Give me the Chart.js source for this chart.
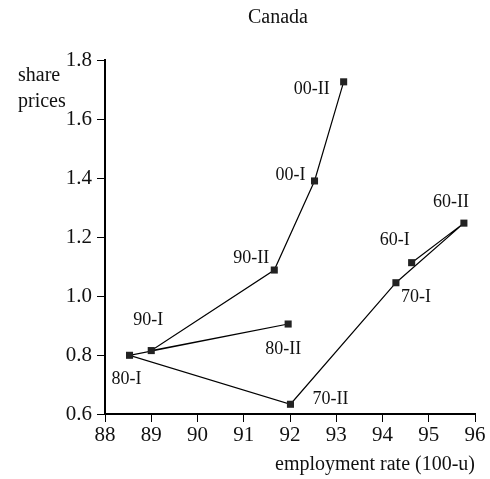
<!DOCTYPE html>
<html>
<head>
<meta charset="utf-8">
<script src="https://cdn.jsdelivr.net/npm/chart.js@4.4.0/dist/chart.umd.min.js"></script>
<style>
  html, body { margin: 0; padding: 0; background: #fff; }
  #wrap { width: 490px; height: 479px; position: relative; }
</style>
</head>
<body>
<div id="wrap"><canvas id="canada"></canvas></div>
<script>
// periods, in the order the path is drawn
const periods = ["60-I", "60-II", "70-I", "70-II", "80-I", "80-II", "90-I", "90-II", "00-I", "00-II"];
// employment rate (100-u)
const employment = [94.63, 95.76, 94.29, 92.01, 88.53, 91.96, 89.0, 91.66, 92.53, 93.16];
// share prices
const sharePrices = [1.113, 1.247, 1.045, 0.633, 0.799, 0.905, 0.815, 1.088, 1.39, 1.726];

const xTicks = [88, 89, 90, 91, 92, 93, 94, 95, 96];
const yTicks = [0.6, 0.8, 1.0, 1.2, 1.4, 1.6, 1.8];

// where each period label sits relative to its point (px)
const labelOffsets = [[-17, -22], [-13, -21], [20, 15], [40, -5], [-3, 24],
                      [-5, 25], [-3, -30], [-23, -12], [-24, -6], [-32, 7]];

const serif = "'Liberation Serif', 'DejaVu Serif', serif";

const textPlugin = {
  id: 'texts',
  afterDatasetsDraw(chart) {
    const ctx = chart.ctx;
    const meta = chart.getDatasetMeta(0);
    ctx.save();
    ctx.fillStyle = '#111';
    ctx.textAlign = 'center';
    ctx.textBaseline = 'middle';
    ctx.font = '18px ' + serif;
    meta.data.forEach((pt, i) => {
      ctx.fillText(periods[i], pt.x + labelOffsets[i][0], pt.y + labelOffsets[i][1]);
    });
    // title
    ctx.font = '20px ' + serif;
    ctx.fillText('Canada', 278, 18);
    // y axis caption
    ctx.textAlign = 'left';
    ctx.fillText('share', 18, 76);
    ctx.fillText('prices', 18, 102);
    // x axis caption
    ctx.textAlign = 'right';
    ctx.fillText('employment rate (100-u)', 475, 465);
    ctx.restore();
  }
};

new Chart(document.getElementById('canada'), {
  type: 'scatter',
  data: {
    datasets: [{
      data: employment.map((x, i) => ({ x: x, y: sharePrices[i] })),
      showLine: true,
      borderColor: '#000',
      borderWidth: 1.2,
      tension: 0,
      pointStyle: 'rect',
      pointRadius: 5,
      pointBackgroundColor: '#222',
      pointBorderColor: '#222',
      pointBorderWidth: 0,
      clip: false
    }]
  },
  options: {
    responsive: true,
    maintainAspectRatio: false,
    animation: false,
    events: [],
    layout: { padding: { top: 60, right: 15, left: 0, bottom: 0 } },
    plugins: {
      legend: { display: false },
      title: { display: false },
      tooltip: { enabled: false }
    },
    scales: {
      x: {
        type: 'linear',
        min: 88, max: 96,
        afterBuildTicks: s => { s.ticks = xTicks.map(v => ({ value: v })); },
        afterFit: s => { s.height = 65; },
        border: { display: true, color: '#000', width: 2 },
        grid: { drawOnChartArea: false, drawTicks: true, tickLength: 8, color: '#000', tickWidth: 1 },
        ticks: { color: '#111', font: { family: serif, size: 21 }, padding: 1, maxRotation: 0 }
      },
      y: {
        type: 'linear',
        min: 0.6, max: 1.8,
        afterBuildTicks: s => { s.ticks = yTicks.map(v => ({ value: v })); },
        afterFit: s => { s.width = 105; },
        border: { display: true, color: '#000', width: 2 },
        grid: { drawOnChartArea: false, drawTicks: true, tickLength: 8, color: '#000', tickWidth: 1 },
        ticks: { color: '#111', font: { family: serif, size: 21 }, padding: 5, callback: v => v.toFixed(1) }
      }
    }
  },
  plugins: [textPlugin]
});
</script>
</body>
</html>
